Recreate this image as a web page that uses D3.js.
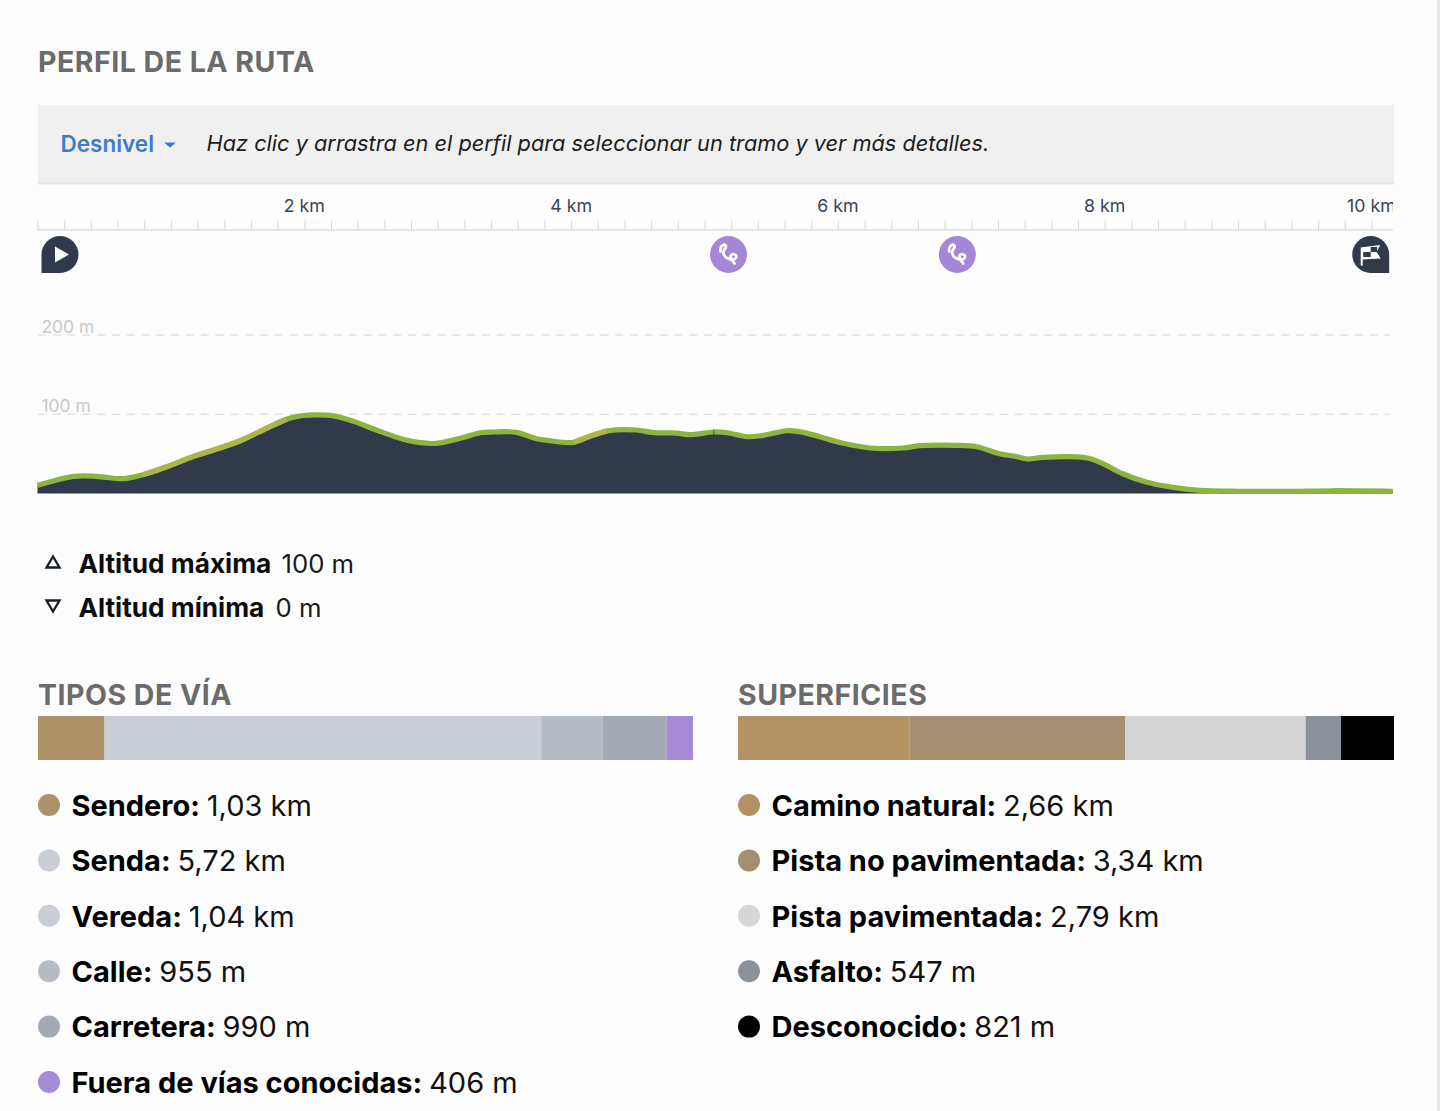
<!DOCTYPE html>
<html><head><meta charset="utf-8">
<script src="https://cdn.jsdelivr.net/npm/d3@7"></script>
<style>html,body{margin:0;padding:0;background:#fdfdfd}svg{display:block}text{font-family:Inter,"Open Sans",sans-serif}</style>
</head><body><svg id="c" width="1440" height="1111"></svg>
<script>
const profileKm=[0,.12,.27,.44,.64,.79,.97,1.17,1.32,1.52,1.72,1.87,1.99,2.09,2.22,2.37,2.54,2.74,2.87,2.99,3.17,3.32,3.42,3.59,3.74,3.82,4.02,4.14,4.27,4.49,4.62,4.79,4.89,5.07,5.17,5.32,5.44,5.62,5.74,6.04,6.24,6.49,6.61,6.89,7.04,7.22,7.32,7.42,7.54,7.87,7.97,8.14,8.31,8.51,8.71,9.01,9.39,9.71,10.16];
const profileM=[10.3,15.8,21.7,21.7,18.7,23.7,33.8,46.9,54.9,66.6,82.6,94,98.4,99.3,98,91,80.1,68.4,64.1,63.3,69.7,76.7,77.6,77.2,69.2,67.1,64.6,72.2,78.9,80.1,76.7,76.3,74.2,77.6,76.7,71.7,73.4,79.2,77.2,63.3,57.4,57.4,60.3,60.8,59,49.8,47.3,43.5,45.7,44.8,38.9,24.6,14.5,7.8,4,2.8,2.8,3.5,2.8];
const steepRanges=[[.79,1.87],[4.02,4.27]];
const kmLabels=[2,4,6,8,10];
const altLabels=[100,200];
const waypointKm=[5.18,6.895];
const viaNames=["Sendero","Senda","Vereda","Calle","Carretera","Fuera de vías conocidas"];
const viaKm=[1.03,5.72,1.04,.955,.99,.406];
const viaText=["1,03 km","5,72 km","1,04 km","955 m","990 m","406 m"];
const viaColors=["#ab9068","#c9ced6","#c9ced6","#b6bcc4","#a3aab3","#a68bd6"];
const surfNames=["Camino natural","Pista no pavimentada","Pista pavimentada","Asfalto","Desconocido"];
const surfKm=[2.66,3.34,2.79,.547,.821];
const surfText=["2,66 km","3,34 km","2,79 km","547 m","821 m"];
const surfColors=["#b39263","#a58f72","#d6d6d6","#8b929c","#000000"];

const svg=d3.select("#c");
const xKm=d3.scaleLinear().domain([0,10]).range([37.5,1371.5]);
const yAlt=d3.scaleLinear().domain([0,200]).range([493.5,335]);
const R=1393;
svg.append("rect").attr("x",1437).attr("y",0).attr("width",3).attr("height",1111).attr("fill","#e8e6da");
const defs=svg.append("defs");
defs.append("clipPath").attr("id","clip").append("rect").attr("x",37).attr("y",185).attr("width",R-37).attr("height",320);

const heading=(t,xx,yy)=>svg.append("text").attr("x",xx).attr("y",yy).attr("fill","#6b6b6b").attr("font-size",28.5).attr("letter-spacing",.5).attr("font-weight",700).text(t);
heading("PERFIL DE LA RUTA",38,72);

svg.append("rect").attr("x",38).attr("y",105).attr("width",1356).attr("height",78).attr("fill","#f0f0f0");
svg.append("rect").attr("x",38).attr("y",182).attr("width",1356).attr("height",2.5).attr("fill","#e6e6e6");
svg.append("text").attr("x",60.5).attr("y",151.5).attr("fill","#3b7ccf").attr("font-size",22.5).attr("font-weight",600).text("Desnivel");
svg.append("path").attr("d","M164 142.5h12l-6 5z").attr("fill","#3b7ccf");
svg.append("text").attr("x",206.5).attr("y",151).attr("fill","#1c1c1c").attr("font-size",21.75).attr("font-style","italic").text("Haz clic y arrastra en el perfil para seleccionar un tramo y ver más detalles.");

const g=svg.append("g").attr("clip-path","url(#clip)");
const axis=d3.axisTop(xKm).tickValues(d3.range(0,51).map(i=>i/5)).tickSize(9).tickFormat("");
const ax=g.append("g").attr("transform","translate(0,229.7)").call(axis);
ax.selectAll("line").attr("stroke","#d6d9dd").attr("stroke-width",1);
ax.select(".domain").remove();
g.append("line").attr("x1",37.5).attr("x2",R).attr("y1",229.7).attr("y2",229.7).attr("stroke","#dcdee1").attr("stroke-width",1.5);
g.selectAll(".kml").data(kmLabels).join("text").attr("x",d=>xKm(d)).attr("y",211.5).attr("text-anchor","middle")
 .attr("fill","#3b4452").attr("font-size",17.8).text(d=>d+" km");

svg.selectAll(".gr").data(altLabels).join("line").attr("x1",38).attr("x2",1390).attr("y1",d=>yAlt(d)).attr("y2",d=>yAlt(d))
 .attr("stroke","#d6d6d6").attr("stroke-width",1).attr("stroke-dasharray","8 6.8");
svg.selectAll(".grl").data(altLabels).join("text").attr("x",41.5).attr("y",d=>yAlt(d)-2.5).attr("fill","#c8c8c8").attr("font-size",17.4).text(d=>d+" m");

const pts=profileKm.map((k,i)=>[k,profileM[i]]);
const curve=d3.curveCatmullRom.alpha(.5);
const areaGen=d3.area().x(d=>xKm(d[0])).y0(yAlt(0)).y1(d=>Math.min(yAlt(0),yAlt(d[1]))).curve(curve);
const lineGen=d3.line().x(d=>xKm(d[0])).y(d=>yAlt(d[1])).curve(curve);
svg.append("path").attr("d",areaGen(pts)).attr("fill","#303a4b");
svg.append("path").attr("d",lineGen(pts)).attr("fill","none").attr("stroke","#8cb440").attr("stroke-width",5.2);
steepRanges.forEach(s=>svg.append("path").attr("d",lineGen(pts.filter(d=>d[0]>=s[0]&&d[0]<=s[1]))).attr("fill","none").attr("stroke","#aeb548").attr("stroke-width",5.2));
svg.append("line").attr("x1",xKm(5.07)).attr("x2",xKm(5.07)).attr("y1",yAlt(77.6)-2.5).attr("y2",yAlt(77.6)+3).attr("stroke","#4a5a2c").attr("stroke-width",1);

const r=18.5,cy=254.5;
const sx=60, ex=1370.7;
svg.append("path").attr("d",`M${sx-r} ${cy+r}V${cy}A${r} ${r} 0 1 1 ${sx} ${cy+r}Z`).attr("fill","#303a4b");
svg.append("path").attr("d",`M${sx-5} ${cy-8}L${sx+9} ${cy}L${sx-5} ${cy+8}Z`).attr("fill","#fff");
svg.append("path").attr("d",`M${ex+r} ${cy+r}V${cy}A${r} ${r} 0 1 0 ${ex} ${cy+r}Z`).attr("fill","#303a4b");
svg.append("path").attr("d",`M${ex-10} ${cy+11}V${cy-7}L${ex+9.5} ${cy-9.5}L${ex+6} ${cy-2.5}L${ex+10} ${cy+4}L${ex-8} ${cy+5}V${cy+11}Z`).attr("fill","#fff");
svg.append("rect").attr("x",ex-7.5).attr("y",cy-2.5).attr("width",7.5).attr("height",5).attr("fill","#303a4b");
svg.append("rect").attr("x",ex).attr("y",cy-7.5).attr("width",6.5).attr("height",5).attr("fill","#303a4b");
const wp=svg.selectAll(".wp").data(waypointKm).join("g").attr("transform",d=>`translate(${xKm(d)},${cy})`);
wp.append("circle").attr("r",r).attr("fill","#a587d8");
wp.append("path").attr("d","M-8 -3C-9 -8 -5 -11 -3 -9C-1 -7 -6 -5 -5 -1C-4 3 0 5 4 5C8 5 9 1 6 0C3 -1 1 1 3 5L6 9")
 .attr("fill","none").attr("stroke","#fff").attr("stroke-width",2.8).attr("stroke-linecap","round");

svg.append("path").attr("d","M46.5 567.5L53 556.5L59.5 567.5Z").attr("fill","none").attr("stroke","#1a1f2a").attr("stroke-width",2.4);
svg.append("path").attr("d","M46.5 600.5L53 611.5L59.5 600.5Z").attr("fill","none").attr("stroke","#1a1f2a").attr("stroke-width",2.4);
const alt=(n,v,yy,vx)=>{
 svg.append("text").attr("x",78.5).attr("y",yy).attr("fill","#0c0c0c").attr("font-size",26.2).attr("font-weight",700).text(n);
 svg.append("text").attr("x",vx).attr("y",yy).attr("fill","#1a1a1a").attr("font-size",25.7).text(v);
};
alt("Altitud máxima","100 m",572.5,281.5);
alt("Altitud mínima","0 m",616.5,275.5);

function block(title,names,vals,txt,cols,x0,x1){
 heading(title,x0,705);
 const sc=d3.scaleLinear().domain([0,d3.sum(vals)]).range([x0,x1]);
 let acc=0;const st=vals.map(v=>{const a=acc;acc+=v;return a});
 svg.selectAll(null).data(vals).join("rect").attr("x",(d,i)=>sc(st[i])).attr("width",d=>sc(d)-sc(0)).attr("y",716).attr("height",44).attr("fill",(d,i)=>cols[i]);
 const ly=d3.scaleLinear().domain([0,1]).range([805,860.4]);
 names.forEach((n,i)=>{
  svg.append("circle").attr("cx",x0+11).attr("cy",ly(i)).attr("r",11).attr("fill",cols[i]);
  const t=svg.append("text").attr("x",x0+33.5).attr("y",ly(i)+10.7).attr("fill","#000").attr("font-size",29);
  t.append("tspan").attr("font-weight",700).text(n+": ");
  t.append("tspan").attr("fill","#111").text(txt[i]);
 });
}
block("TIPOS DE VÍA",viaNames,viaKm,viaText,viaColors,38,693);
block("SUPERFICIES",surfNames,surfKm,surfText,surfColors,738,1394);
</script></body></html>
